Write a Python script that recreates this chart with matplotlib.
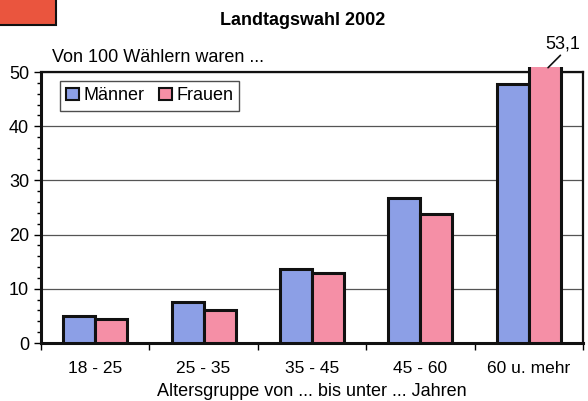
import matplotlib.pyplot as plt
from matplotlib.patches import Rectangle
from matplotlib.ticker import MultipleLocator, FixedLocator
import numpy as np

plt.rcParams['font.family'] = ['Liberation Sans', 'DejaVu Sans']

# Altersgruppen und Anteile (von 100 Waehlern)
gruppen = ['18 - 25', '25 - 35', '35 - 45', '45 - 60', '60 u. mehr']
maenner = [4.9, 7.5, 13.7, 26.7, 47.7]
frauen = [4.4, 6.0, 13.0, 23.8, 53.1]

c_m = '#8c9fe6'
c_f = '#f58fa6'

fig = plt.figure(figsize=(5.88, 4.01), dpi=100)
ax = fig.add_axes([0.0697, 0.1446, 0.9218, 0.6758])

x = np.arange(len(gruppen)) + 0.5
w = 0.295
clip = Rectangle((0, 0), 1, 1.02, transform=ax.transAxes, facecolor='none', edgecolor='none')
ax.add_patch(clip)

bm = ax.bar(x - w/2, maenner, w, color=c_m, edgecolor='#111111', linewidth=2.2, label='Männer', zorder=3)
bf = ax.bar(x + w/2, frauen, w, color=c_f, edgecolor='#111111', linewidth=2.2, label='Frauen', zorder=3)
for b in list(bm) + list(bf):
    b.set_clip_path(clip)

ax.set_xlim(0, 5)
ax.set_ylim(0, 50)
ax.yaxis.set_major_locator(MultipleLocator(10))
ax.yaxis.set_minor_locator(MultipleLocator(2))
ax.xaxis.set_major_locator(FixedLocator(np.arange(0, 6)))
ax.xaxis.set_minor_locator(FixedLocator(x))
ax.set_xticklabels([])
ax.set_xticklabels(gruppen, minor=True)
ax.tick_params(axis='x', which='minor', length=0, pad=13, labelsize=12.5)
ax.tick_params(axis='x', which='major', length=5, width=1, direction='out')
ax.tick_params(axis='y', which='major', length=5, width=1, labelsize=13)
ax.tick_params(axis='y', which='minor', length=3, width=1)

ax.grid(axis='y', color='#555555', linewidth=0.9, zorder=0)
for s in ax.spines.values():
    s.set_linewidth(1.6)
    s.set_color('#111111')
ax.spines['left'].set_linewidth(2.2)
ax.spines['bottom'].set_linewidth(2.2)

ax.set_xlabel('Altersgruppe von ... bis unter ... Jahren', fontsize=13, labelpad=5)

leg = ax.legend(loc='upper left', bbox_to_anchor=(0.035, 0.967), borderaxespad=0, ncol=2,
                fontsize=13, frameon=True, fancybox=False, handlelength=0.7, handleheight=0.7,
                handletextpad=0.25, columnspacing=0.8, borderpad=0.35)
leg.get_frame().set_edgecolor('#222222')
leg.get_frame().set_linewidth(1.0)
for h in leg.legend_handles:
    h.set_linewidth(1.5)

# Wert ueber der abgeschnittenen Saeule
ax.annotate('53,1', xy=(x[4] + w/2 + 0.03, 50.8), xytext=(x[4] + w/2 + 0.17, 53.6),
            ha='center', va='bottom', fontsize=13, annotation_clip=False,
            arrowprops=dict(arrowstyle='-', color='#111111', lw=1.2, shrinkA=0, shrinkB=0,
                            relpos=(0.5, 0.0)))

fig.text(0.515, 0.948, 'Landtagswahl 2002', ha='center', va='center', fontsize=13, fontweight='bold')
fig.text(0.088, 0.857, 'Von 100 Wählern waren ...', ha='left', va='center', fontsize=13)

# roter Kasten oben links (angeschnitten)
fig.patches.append(Rectangle((-0.01, 0.937), 0.105, 0.08, transform=fig.transFigure,
                             facecolor='#ea553e', edgecolor='#111111', linewidth=1.5))

fig.savefig('out.png', dpi=100)
